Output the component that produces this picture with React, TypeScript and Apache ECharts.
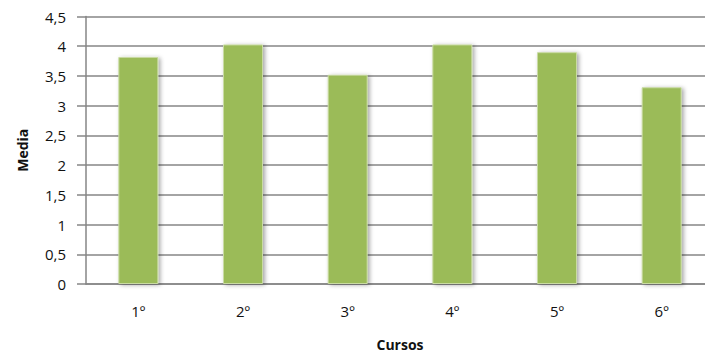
import React, { useEffect, useRef } from "react";
import * as echarts from "echarts";

const cursos = ["1º", "2º", "3º", "4º", "5º", "6º"];
const medias = [3.82, 4.03, 3.52, 4.03, 3.9, 3.31];
const yTicks = [0, 0.5, 1, 1.5, 2, 2.5, 3, 3.5, 4, 4.5];

const fmt = (v: number) => String(v).replace(".", ",");

export default function App() {
  const ref = useRef<HTMLDivElement>(null);

  useEffect(() => {
    if (!ref.current) return;
    const chart = echarts.init(ref.current, undefined, { renderer: "svg" });
    const font = "'Open Sans', 'DejaVu Sans', sans-serif";
    chart.setOption({
      animation: false,
      grid: { left: 86, top: 16.5, width: 628, bottom: 70, outerBoundsMode: "none" },
      xAxis: {
        type: "category",
        data: cursos,
        name: "Cursos",
        nameLocation: "middle",
        nameGap: 53,
        nameTextStyle: { fontFamily: font, fontWeight: "bold", fontSize: 14, color: "#111" },
        axisLine: { lineStyle: { color: "#868686", width: 1.5 } },
        axisTick: { show: false },
        axisLabel: { fontFamily: font, fontSize: 15, color: "#111", margin: 19 },
      },
      yAxis: {
        type: "value",
        min: 0,
        max: yTicks[yTicks.length - 1],
        interval: 0.5,
        name: "Media",
        nameLocation: "middle",
        nameGap: 57,
        nameTextStyle: { fontFamily: font, fontWeight: "bold", fontSize: 14, color: "#111" },
        axisLine: { show: true, lineStyle: { color: "#868686", width: 1.5 } },
        axisTick: { show: true, length: 9, lineStyle: { color: "#868686", width: 1.5 } },
        splitLine: { lineStyle: { color: "#868686", width: 1.5 } },
        axisLabel: { fontFamily: font, fontSize: 15, color: "#111", margin: 20, formatter: (v: number) => fmt(v) },
      },
      series: [
        {
          type: "bar",
          data: medias,
          barWidth: 40,
          itemStyle: {
            color: "#9bbb59",
            borderColor: "#c9dba3",
            borderWidth: 1,
            shadowColor: "rgba(0,0,0,0.35)",
            shadowBlur: 4,
            shadowOffsetX: 2,
            shadowOffsetY: 1,
          },
        },
      ],
    });
    return () => chart.dispose();
  }, []);

  return <div ref={ref} style={{ width: 705, height: 354, position: "absolute", left: 0, top: 0 }} />;
}
